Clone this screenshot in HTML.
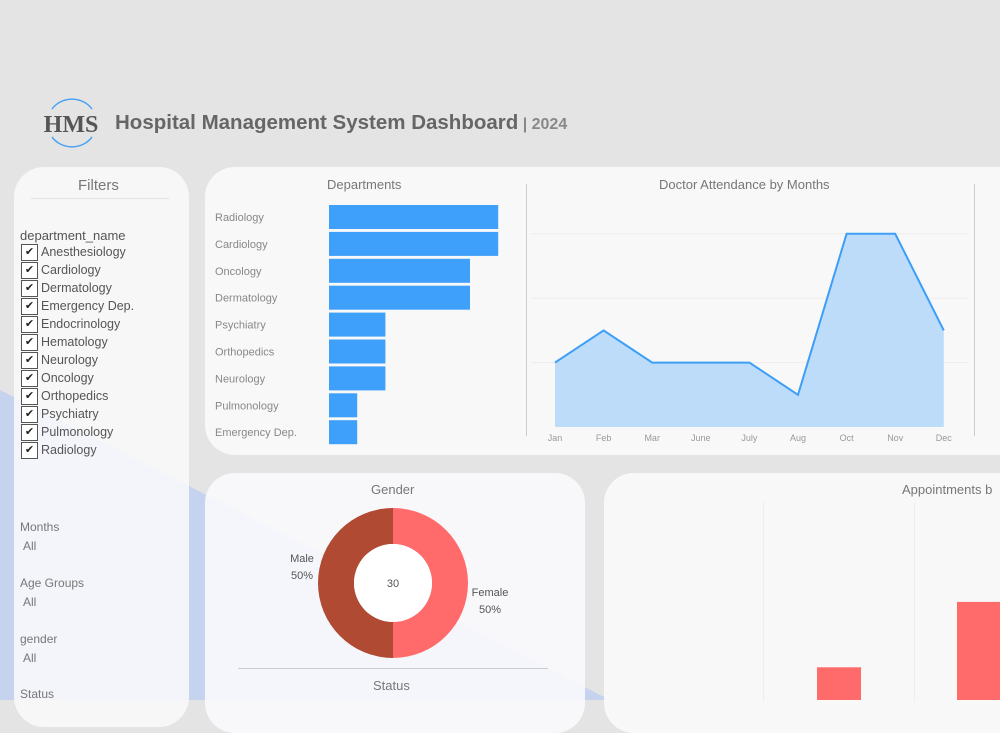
<!DOCTYPE html>
<html><head><meta charset="utf-8"><style>
*{margin:0;padding:0;box-sizing:border-box}
body{width:1000px;height:700px;overflow:hidden;position:relative;background:#e4e4e4;font-family:"Liberation Sans",sans-serif;color:#666}
.abs{position:absolute}
.panel{position:absolute;background:rgba(250,250,250,0.93);border-radius:30px}
.t{position:absolute;font-size:13px;color:#777;white-space:nowrap;z-index:6}
.cb{position:absolute;left:21px;width:17px;height:17px;border:1.5px solid #555;background:#fff;font-size:11px;line-height:14px;text-align:center;color:#222;z-index:6}
.fi{position:absolute;left:41px;font-size:12.5px;color:#555;z-index:6}
</style></head><body>
<svg class="abs" style="left:0;top:0" width="1000" height="700"><polygon points="0,390 610,700 0,700" fill="#c5d3ee"/></svg>

<svg class="abs" style="left:40px;top:95px" width="62" height="56"><path d="M12,14 A24,22 0 0 1 52,14" fill="none" stroke="#4da3f0" stroke-width="1.5"/><path d="M12,42 A24,22 0 0 0 52,42" fill="none" stroke="#4da3f0" stroke-width="1.5"/><text x="31" y="37" text-anchor="middle" font-family="Liberation Serif" font-weight="bold" font-size="24" fill="#555">HMS</text></svg>
<div class="t" style="left:115px;top:111px;font-size:20.5px;font-weight:bold;color:#666">Hospital Management System Dashboard<span style="font-size:16px;color:#888"> | 2024</span></div>

<div class="panel" style="left:14px;top:167px;width:175px;height:560px;background:rgba(250,250,252,0.85)"></div>
<div class="t" style="left:78px;top:177px;font-size:15px">Filters</div>
<div class="abs" style="left:31px;top:198px;width:138px;height:1px;background:#e2e2e2"></div>
<div class="t" style="left:20px;top:228px;color:#555">department_name</div>
<div id="flist"></div>
<div class="t" style="left:20px;top:520px;font-size:12px">Months</div>
<div class="t" style="left:23px;top:539px;font-size:12px">All</div>
<div class="t" style="left:20px;top:576px;font-size:12px">Age Groups</div>
<div class="t" style="left:23px;top:595px;font-size:12px">All</div>
<div class="t" style="left:20px;top:632px;font-size:12px">gender</div>
<div class="t" style="left:23px;top:651px;font-size:12px">All</div>
<div class="t" style="left:20px;top:687px;font-size:12px">Status</div>

<div class="panel" style="left:205px;top:167px;width:830px;height:288px"></div>
<div class="t" style="left:327px;top:177px">Departments</div>
<div class="t" style="left:659px;top:177px">Doctor Attendance by Months</div>
<div class="abs" style="left:526px;top:184px;width:1px;height:252px;background:#ccc;z-index:6"></div>
<div class="abs" style="left:974px;top:184px;width:1px;height:252px;background:#ccc;z-index:6"></div>

<div class="panel" style="left:205px;top:473px;width:380px;height:260px;background:rgba(250,250,252,0.9)"></div>
<div class="t" style="left:371px;top:482px">Gender</div>
<div class="abs" style="left:238px;top:668px;width:310px;height:1px;background:#ccc;z-index:6"></div>
<div class="t" style="left:373px;top:678px">Status</div>
<div class="panel" style="left:604px;top:473px;width:430px;height:260px"></div>
<div class="t" style="left:902px;top:482px">Appointments b</div>
<div class="abs" style="left:763px;top:502px;width:1px;height:200px;background:#eee;z-index:6"></div>
<div class="abs" style="left:914px;top:502px;width:1px;height:200px;background:#eee;z-index:6"></div>
<svg id="chart" class="abs" style="left:0;top:0;z-index:5" width="1000" height="700"></svg>

<script>
const filterItems=["Anesthesiology","Cardiology","Dermatology","Emergency Dep.","Endocrinology","Hematology","Neurology","Oncology","Orthopedics","Psychiatry","Pulmonology","Radiology"];
const deptNames=["Radiology","Cardiology","Oncology","Dermatology","Psychiatry","Orthopedics","Neurology","Pulmonology","Emergency Dep."];
const deptValues=[6,6,5,5,2,2,2,1,1];
const months=["Jan","Feb","Mar","June","July","Aug","Oct","Nov","Dec"];
const attendance=[2,3,2,2,2,1,6,6,3];
const genderLabels=["Female","Male"];
const genderValues=[15,15];
const genderTotal=30;
const apptValues=[1,3];

const fl=document.getElementById('flist');
filterItems.forEach((n,i)=>{
  const y=244+i*18;
  const c=document.createElement('div');c.className='cb';c.style.top=y+'px';c.textContent='✔';
  
  
  fl.appendChild(c);
  const l=document.createElement('div');l.className='fi';l.style.top=(y+1)+'px';l.textContent=n;
  
  
  fl.appendChild(l);
});

const svg=document.getElementById('chart');const NS='http://www.w3.org/2000/svg';
function mk(t,a){const e=document.createElementNS(NS,t);for(const k in a)e.setAttribute(k,a[k]);svg.appendChild(e);return e;}
// bar chart
const bx=v=>28.2*v, by=i=>205+i*26.9;
deptNames.forEach((n,i)=>{
  const r=mk('rect',{x:329,y:by(i),width:bx(deptValues[i]),height:24,fill:'#3fa0fb'});
  
  
  const t=mk('text',{x:215,y:by(i)+16,'font-size':11,fill:'#888'});t.textContent=n;
  
  
});
// line chart
const lx=i=>555+i*48.6, ly=v=>427-v*32.2;
[2,4,6].forEach(g=>{const l=mk('line',{x1:531,x2:968,y1:ly(g),y2:ly(g),stroke:'#ececec'});});
let pts=attendance.map((v,i)=>lx(i)+','+ly(v)).join(' ');
const ar=mk('polygon',{points:lx(0)+','+ly(0)+' '+pts+' '+lx(months.length-1)+','+ly(0),fill:'#bcdcfa'});


const pl=mk('polyline',{points:pts,fill:'none',stroke:'#3d9ef6','stroke-width':2});


months.forEach((m,i)=>{const t=mk('text',{x:lx(i),y:441,'font-size':9,fill:'#999','text-anchor':'middle'});t.textContent=m;
  
  });
// donut
const cx=393,cy=583,R=75,r0=39;const colors=['#ff6b6b','#b04a33'];
let tot=genderValues.reduce((a,b)=>a+b,0),a0=-Math.PI/2;
genderValues.forEach((v,i)=>{const a1=a0+v/tot*2*Math.PI;const lg=(a1-a0)>Math.PI?1:0;
  const d=`M${cx+R*Math.cos(a0)},${cy+R*Math.sin(a0)} A${R},${R} 0 ${lg} 1 ${cx+R*Math.cos(a1)},${cy+R*Math.sin(a1)} L${cx+r0*Math.cos(a1)},${cy+r0*Math.sin(a1)} A${r0},${r0} 0 ${lg} 0 ${cx+r0*Math.cos(a0)},${cy+r0*Math.sin(a0)}Z`;
  const p=mk('path',{d:d,fill:colors[i]});
  
  
  a0=a1;});
const hole=mk('circle',{cx:cx,cy:cy,r:r0,fill:'#fff'});


const ct=mk('text',{x:cx,y:cy+4,'font-size':11,fill:'#555','text-anchor':'middle'});ct.textContent=genderTotal;


[[genderLabels[1],302,562],[Math.round(genderValues[1]/tot*100)+'%',302,579],[genderLabels[0],490,596],[Math.round(genderValues[0]/tot*100)+'%',490,613]].forEach(a=>{
  const t=mk('text',{x:a[1],y:a[2],'font-size':11,fill:'#555','text-anchor':'middle'});t.textContent=a[0];
  
  });
// appointments bars
const ax=[817,957], ay=v=>700-v*32.7;
apptValues.forEach((v,i)=>{const r=mk('rect',{x:ax[i],y:ay(v),width:44,height:700-ay(v),fill:'#ff6b6b'});
  
  });
</script>
</body></html>
